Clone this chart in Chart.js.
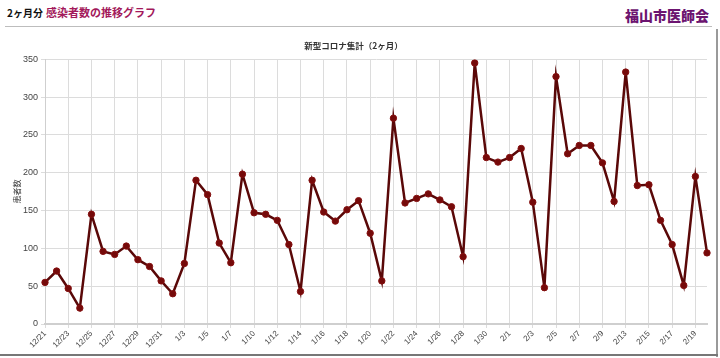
<!DOCTYPE html>
<html lang="ja">
<head>
<meta charset="utf-8">
<script src="https://cdn.jsdelivr.net/npm/chart.js@4/dist/chart.umd.min.js"></script>
<style>
  html, body { margin: 0; padding: 0; background: #fff; }
  body { width: 720px; height: 358px; position: relative; overflow: hidden;
         font-family: "Noto Sans CJK JP", "Liberation Sans", sans-serif; }
  .sub { position: absolute; left: 7px; top: 5px; font-size: 10px; font-weight: bold; color: #111; }
  .ttl { position: absolute; left: 46px; top: 4px; font-size: 11px; font-weight: bold; color: #a3195b; }
  .org { position: absolute; right: 11px; top: 5px; font-size: 14px; font-weight: 900; color: #6c1470; }
  .rule { position: absolute; left: 5px; top: 26px; width: 707px; height: 1px; background: #bdbdbd; }
  .frame-r { position: absolute; left: 716px; top: 29px; width: 2px; height: 328px; background: #9a9a9a; }
  .frame-b { position: absolute; left: 0; top: 354px; width: 718px; height: 2px; background: #777; }
  .wrap { position: absolute; left: 0; top: 30px; width: 715px; height: 323px; }
</style>
</head>
<body>
<div class="sub">2ヶ月分</div>
<div class="ttl">感染者数の推移グラフ</div>
<div class="org">福山市医師会</div>
<div class="rule"></div>
<div class="frame-r"></div>
<div class="frame-b"></div>
<div class="wrap"><canvas id="chart"></canvas></div>
<script>
// 日付（表示は1つおき）
const days = [
  '12/21', '12/22', '12/23', '12/24', '12/25', '12/26', '12/27', '12/28', '12/29', '12/30', '12/31',
  '1/2', '1/3', '1/4', '1/5', '1/6', '1/7', '1/8', '1/10', '1/11', '1/12', '1/13', '1/14', '1/15',
  '1/16', '1/17', '1/18', '1/19', '1/20', '1/21', '1/22', '1/23', '1/24', '1/25', '1/26', '1/27',
  '1/28', '1/29', '1/30', '1/31', '2/1', '2/2', '2/3', '2/4', '2/5', '2/6', '2/7', '2/8', '2/9',
  '2/10', '2/13', '2/14', '2/15', '2/16', '2/17', '2/18', '2/19', '2/20',
];

// 患者数
const patients = [
  55, 70, 47, 21, 145, 96, 92, 103, 85, 76, 57,
  40, 80, 190, 171, 107, 81, 198, 147, 145, 137, 105, 43, 190,
  148, 136, 151, 163, 120, 57, 272, 160, 166, 172, 164, 155,
  89, 345, 220, 214, 220, 232, 161, 48, 327, 225, 236, 236, 213,
  162, 333, 183, 184, 137, 105, 51, 195, 94,
];

const yTicks = [0, 50, 100, 150, 200, 250, 300, 350];

const ink = '#444';
const grid = '#dcdcdc';

new Chart(document.getElementById('chart'), {
  type: 'line',
  data: {
    labels: days,
    datasets: [{
      label: '患者数',
      data: patients,
      borderColor: '#5a0808',
      borderWidth: 2.5,
      tension: 0,
      pointRadius: 3.2,
      pointBackgroundColor: '#750a0a',
      pointBorderColor: '#851010',
      pointBorderWidth: 1,
    }],
  },
  options: {
    responsive: true,
    maintainAspectRatio: false,
    animation: false,
    layout: { padding: { left: 0, right: 8, top: 0, bottom: 0 } },
    plugins: {
      legend: { display: false },
      tooltip: { enabled: false },
      title: {
        display: true,
        text: '新型コロナ集計（2ヶ月）',
        color: '#333',
        font: { family: '"Noto Sans CJK JP", sans-serif', size: 8.5, weight: 'bold' },
        padding: { top: 11, bottom: 8 },
      },
    },
    scales: {
      x: {
        grid: { color: grid, tickLength: 4 },
        border: { color: '#cfcfcf', width: 2 },
        afterBuildTicks: (s) => { s.ticks = s.ticks.filter((t, i) => i % 2 === 0); },
        afterFit: (s) => { s.height = 29; },
        ticks: {
          autoSkip: false,
          maxRotation: 45,
          minRotation: 45,
          color: ink,
          padding: 1,
          font: { family: '"Liberation Sans", Arial, sans-serif', size: 8 },
        },
      },
      y: {
        min: 0,
        max: 350,
        afterBuildTicks: (s) => { s.ticks = yTicks.map((v) => ({ value: v })); },
        afterFit: (s) => { s.width = 45; },
        grid: { color: grid, tickLength: 4 },
        border: { color: '#cfcfcf' },
        ticks: {
          color: ink,
          padding: 3,
          font: { family: '"Liberation Sans", Arial, sans-serif', size: 9 },
        },
        title: {
          display: true,
          text: '患者数',
          color: '#333',
          padding: { top: 12, bottom: 0 },
          font: { family: '"Noto Sans CJK JP", sans-serif', size: 8 },
        },
      },
    },
  },
});
</script>
</body>
</html>
